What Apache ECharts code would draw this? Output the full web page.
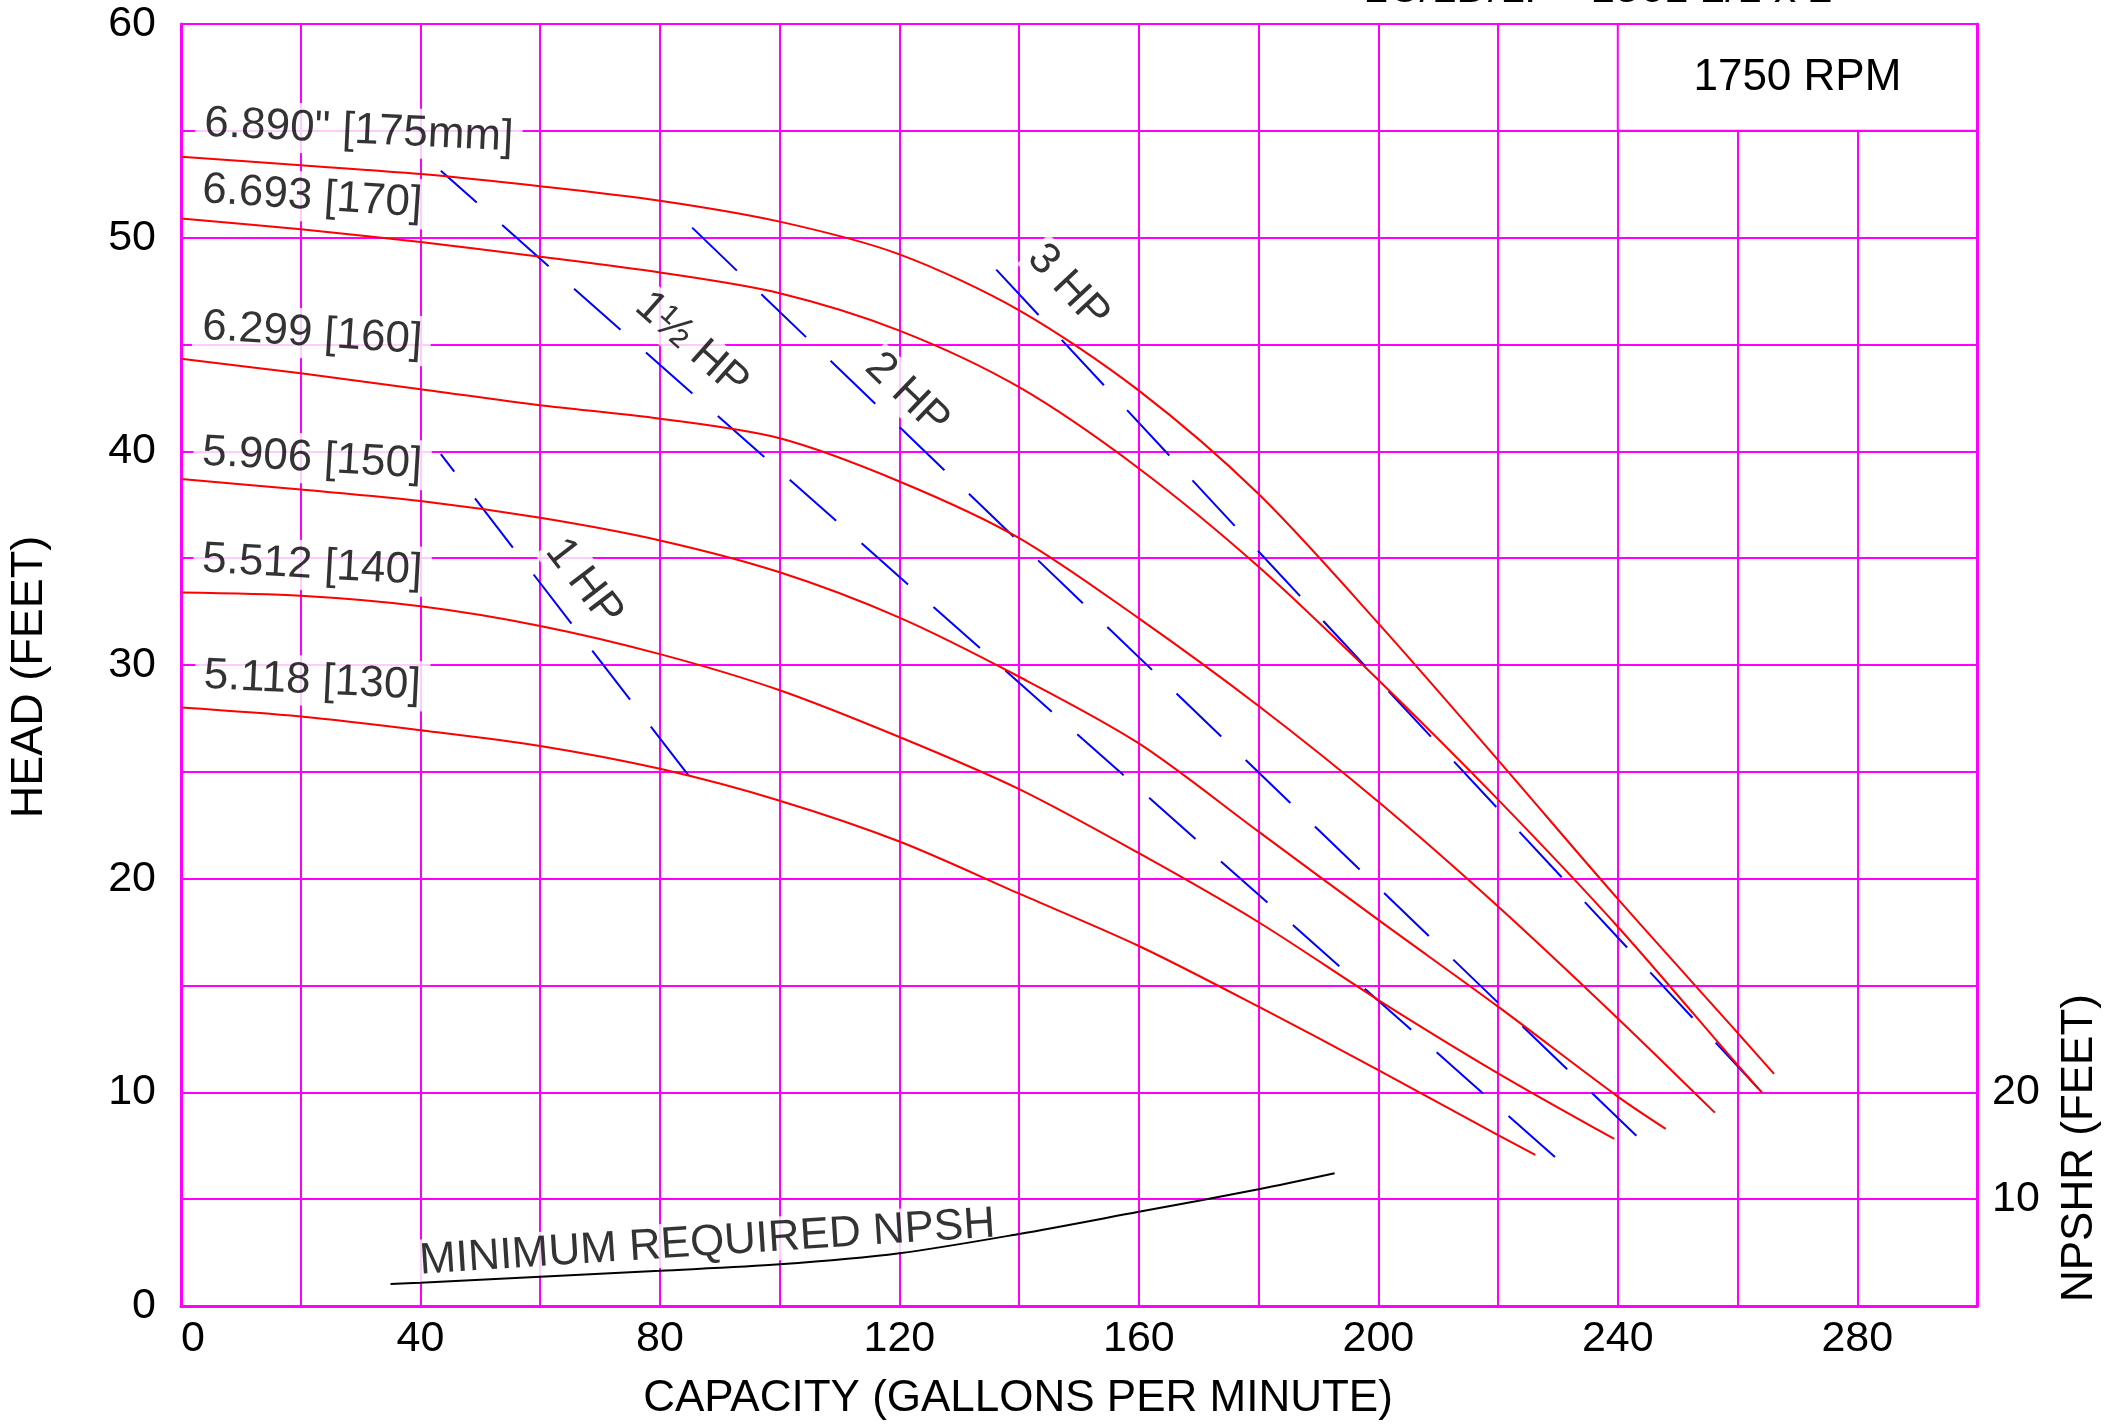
<!DOCTYPE html>
<html>
<head>
<meta charset="utf-8">
<script src="https://cdn.jsdelivr.net/npm/echarts@6/dist/echarts.min.js"></script>
<style>
html,body{margin:0;padding:0;background:#ffffff;}
#chart{width:2112px;height:1425px;}
</style>
</head>
<body>
<div id="chart"></div>
<script>
// ---------- DATA (capacity in GPM, head in feet) ----------
const imp175 = [[0,53.79],[20,53.39],[40,52.98],[60,52.41],[80,51.73],[100,50.75],[120,49.22],[140,46.6],[160,42.84],[180,38.0],[200,31.95],[220,25.55],[240,19.05],[260,12.79],[266.1,10.86]];
const imp170 = [[0,50.9],[20,50.39],[40,49.8],[60,49.11],[80,48.37],[100,47.4],[120,45.65],[140,43.0],[160,39.2],[180,34.6],[200,29.3],[220,23.7],[240,17.75],[260,11.28],[264.1,9.98]];
const imp160 = [[0,44.33],[20,43.65],[40,42.91],[60,42.16],[80,41.53],[100,40.61],[120,38.59],[140,35.94],[160,32.18],[180,28.08],[200,23.6],[220,18.7],[240,13.46],[256.2,9.05]];
const imp150 = [[0,38.7],[20,38.21],[40,37.68],[60,36.89],[80,35.83],[100,34.34],[120,32.22],[140,29.45],[160,26.33],[180,22.2],[200,18.07],[220,14.01],[240,9.8],[248,8.29]];
const imp140 = [[0,33.39],[20,33.24],[40,32.75],[60,31.83],[80,30.51],[100,28.82],[120,26.63],[140,24.19],[160,21.19],[180,17.96],[200,14.32],[220,10.89],[239.4,7.82]];
const imp130 = [[0,28.01],[20,27.59],[40,26.95],[60,26.21],[80,25.14],[100,23.65],[120,21.74],[140,19.3],[160,16.85],[180,14.01],[200,11.04],[220,8.0],[226.2,7.07]];

// NPSHR in feet (right axis)
const npshr = [[35,2.06],[40,2.18],[60,2.74],[80,3.3],[100,3.9],[120,4.94],[140,6.74],[160,8.82],[180,10.92],[192.7,12.42]];

// Horsepower limit lines (drawn from the lower end)
const hp1   = [[84.8,24.82],[43.4,39.87]];
const hp1_5 = [[229.5,6.97],[43.4,53.13]];
const hp2   = [[243.1,7.97],[85.05,50.56]];
const hp3   = [[263.4,10.2],[135.8,48.62]];

// Text labels
const curveNames = ['6.890" [175mm]','6.693 [170]','6.299 [160]','5.906 [150]','5.512 [140]','5.118 [130]'];
const curveNamePos = [[29.7,55.0],[21.9,51.9],[21.9,45.5],[21.9,39.65],[21.9,34.65],[21.9,29.25]];
const curveNameRot = [-2.7,-3.8,-3.8,-3.4,-3.2,-2.8];
const hpNames = ['1 HP','1½ HP','2 HP','3 HP'];
const hpNamePos = [[67.3,33.86],[85.3,45.0],[121.3,42.68],[148.2,47.7]];
const hpNameRot = [-52.4,-41.6,-43.9,-47];
const npshName = 'MINIMUM REQUIRED NPSH';
const npshNamePos = [87.9,2.95];
const npshNameRot = 3.7;
const rpmText = '1750 RPM';
const rpmBox = [[240,55],[300,60]];

const xTickLabels = [0,40,80,120,160,200,240,280];
const yTickLabels = [0,10,20,30,40,50,60];
const npshTickLabels = [10,20];

// ---------- STYLE ----------
const FONT = '"Liberation Sans", Arial, Helvetica, sans-serif';
const MAG = '#ff00ff';
const RED = '#ff0000';
const BLUE = '#0000ff';

const chart = echarts.init(document.getElementById('chart'), null, {renderer:'canvas'});

function curve(data){
  return {type:'line', data:data, symbol:'none', smooth:0.3,
    lineStyle:{color:RED, width:2}, z:7, silent:true};
}
function hpLine(data){
  return {type:'line', data:data, symbol:'none',
    lineStyle:{color:BLUE, width:2, type:[62,34]}, z:3, silent:true};
}

const labelData = [];
curveNames.forEach((t,i)=>labelData.push({name:t, value:curveNamePos[i], label:{rotate:curveNameRot[i], padding:[3,9]}}));
hpNames.forEach((t,i)=>labelData.push({name:t, value:hpNamePos[i], label:{rotate:hpNameRot[i], padding:[0,3]}}));
labelData.push({name:npshName, value:npshNamePos, label:{rotate:npshNameRot, padding:[0,4]}});

const seriesA = curve(imp175);
seriesA.markArea = {silent:true,
  itemStyle:{color:'#ffffff', borderColor:MAG, borderWidth:2},
  label:{show:true, position:'inside', color:'#000', fontFamily:FONT, fontSize:44},
  data:[[{coord:rpmBox[0], name:rpmText},{coord:rpmBox[1]}]]};

const option = {
  animation:false,
  backgroundColor:'#ffffff',
  textStyle:{fontFamily:FONT, color:'#000'},
  grid:{left:181, right:135, top:24, bottom:119, containLabel:false},
  xAxis:{type:'value', min:0, max:300, interval:20,
    axisLine:{show:true, onZero:false, lineStyle:{color:MAG, width:3}},
    axisTick:{show:false},
    splitLine:{show:true, lineStyle:{color:MAG, width:2}},
    axisLabel:{show:true, margin:12, fontSize:43, color:'#000', fontFamily:FONT, alignMinLabel:'left',
      formatter:v=> xTickLabels.indexOf(v)>=0 ? String(v) : ''}},
  yAxis:[
    {type:'value', min:0, max:60, interval:5, position:'left',
      axisLine:{show:true, onZero:false, lineStyle:{color:MAG, width:3}},
      axisTick:{show:false},
      splitLine:{show:true, lineStyle:{color:MAG, width:2}},
      axisLabel:{show:true, margin:25, fontSize:43, color:'#000', fontFamily:FONT,
        formatter:v=> yTickLabels.indexOf(v)>=0 ? String(v) : ''}},
    {type:'value', min:0, max:120, interval:10, position:'right',
      axisLine:{show:true, onZero:false, lineStyle:{color:MAG, width:3}},
      axisTick:{show:false},
      splitLine:{show:false},
      axisLabel:{show:true, margin:15, fontSize:43, color:'#000', fontFamily:FONT,
        formatter:v=> npshTickLabels.indexOf(v)>=0 ? String(v) : ''}}
  ],
  series:[
    seriesA, curve(imp170), curve(imp160), curve(imp150), curve(imp140), curve(imp130),
    hpLine(hp1), hpLine(hp1_5), hpLine(hp2), hpLine(hp3),
    {type:'line', yAxisIndex:1, data:npshr, symbol:'none', smooth:0.3,
      lineStyle:{color:'#000', width:2}, z:7, silent:true},
    {type:'scatter', data:labelData, symbolSize:1, itemStyle:{color:'rgba(0,0,0,0)'}, z:6, silent:true,
      label:{show:true, position:'inside', formatter:'{b}', color:'#000', fontFamily:FONT, fontSize:44,
        backgroundColor:'#ffffff'}}
  ],
  graphic:[
    {type:'text', x:30, y:677, rotation:Math.PI/2, silent:true,
      style:{text:'HEAD (FEET)', font:'45px '+FONT, fill:'#000', align:'center', verticalAlign:'middle', textAlign:'center', textVerticalAlign:'middle'}},
    {type:'text', x:2080, y:1148, rotation:Math.PI/2, silent:true,
      style:{text:'NPSHR (FEET)', font:'44px '+FONT, fill:'#000', align:'center', verticalAlign:'middle', textAlign:'center', textVerticalAlign:'middle'}},
    {type:'text', x:1018, y:1399, silent:true,
      style:{text:'CAPACITY (GALLONS PER MINUTE)', font:'44px '+FONT, fill:'#000', align:'center', verticalAlign:'middle', textAlign:'center', textVerticalAlign:'middle'}},
    {type:'text', x:1598, y:12, silent:true,
      style:{text:'LC/LD/LF - 1561 2/1 x 2', font:'44px '+FONT, fill:'#000', align:'center', verticalAlign:'bottom', textAlign:'center', textVerticalAlign:'bottom'}}
  ]
};
chart.setOption(option);
</script>
</body>
</html>
